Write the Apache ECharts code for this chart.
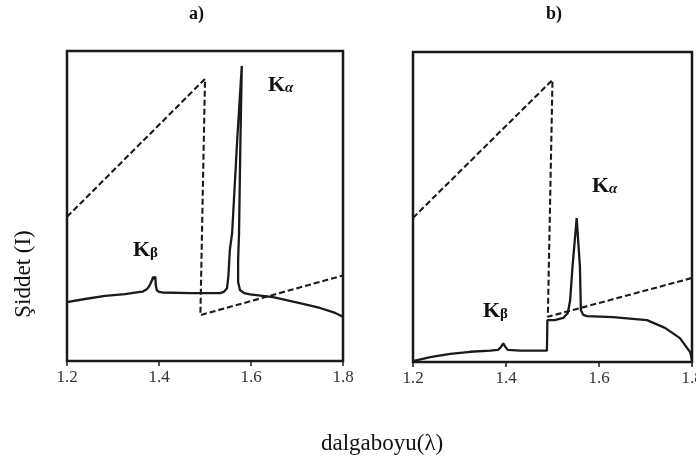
<!DOCTYPE html>
<html><head><meta charset="utf-8">
<script src="https://cdn.jsdelivr.net/npm/echarts@6/dist/echarts.min.js"></script>
<style>html,body{margin:0;padding:0;background:#fff}#c{width:696px;height:463px}</style>
</head><body><div id="c"></div>
<script>
// ---- data ----
const panelTitles = ['a)', 'b)'];
const xTicks = [1.2, 1.4, 1.6, 1.8];
const xLabel = 'dalgaboyu(λ)';
const yLabel = 'Şiddet (I)';
const lineLabels = ['K', 'α', 'β'];

// panel a: continuous + characteristic spectrum (solid)
const aSolidX = [1.200,1.239,1.283,1.326,1.359,1.365,1.374,1.380,1.385,1.387,1.389,1.392,1.393,1.395,1.400,1.407,1.467,1.533,1.541,1.548,1.551,1.554,1.559,1.570,1.580,1.577,1.574,1.572,1.572,1.576,1.585,1.598,1.648,1.706,1.750,1.783,1.800];
const aSolidY = [19.0,20.0,21.0,21.6,22.3,22.4,23.2,24.5,26.1,27.2,26.4,27.2,24.5,22.9,22.3,22.1,21.9,21.9,22.3,23.5,27.7,35.8,41.3,71.3,95.2,71.3,41.3,32.6,25.5,22.9,21.9,21.5,20.6,18.7,17.1,15.5,14.3];
// panel a: absorption edge (dashed)
const aDashX = [1.2, 1.5, 1.49, 1.8];
const aDashY = [46.5, 91.0, 14.8, 27.6];

// panel b: filtered spectrum (solid)
const bSolidX = [1.200,1.237,1.280,1.323,1.366,1.383,1.389,1.394,1.399,1.404,1.430,1.488,1.489,1.505,1.523,1.533,1.538,1.543,1.552,1.559,1.561,1.566,1.574,1.630,1.703,1.742,1.774,1.796,1.800];
const bSolidY = [0.3,1.6,2.6,3.3,3.7,3.9,4.8,6.0,4.8,3.9,3.7,3.7,13.5,13.5,14.2,15.8,20.0,30.7,46.4,30.7,16.8,15.2,14.8,14.5,13.5,11.0,7.7,3.2,0.6];
// panel b: absorption edge (dashed)
const bDashX = [1.2, 1.5, 1.49, 1.8];
const bDashY = [46.5, 91.0, 14.6, 27.1];

// ---- build ----
const zip = (xs, ys) => xs.map((x, i) => [x, ys[i]]);
const INK = '#1a1a1a';
const SERIF = "'Liberation Serif','Times New Roman',serif";

const chart = echarts.init(document.getElementById('c'), null, {renderer: 'canvas'});

const grids = [
  {left: 67, top: 51, width: 276, height: 310},
  {left: 413, top: 52, width: 279, height: 310}
].map(g => Object.assign(g, {show: true, borderColor: INK, borderWidth: 2.5, backgroundColor: 'transparent',
  containLabel: false, outerBoundsMode: 'none'}));

const xAxes = [0, 1].map(i => ({
  type: 'value', gridIndex: i, min: xTicks[0], max: xTicks[xTicks.length - 1], interval: 0.2,
  axisLine: {show: false},
  axisTick: {show: true, length: 5, lineStyle: {color: INK, width: 1.5}},
  axisLabel: {color: '#333', fontFamily: SERIF, fontSize: 17, margin: 8, hideOverlap: false,
    formatter: v => v.toFixed(1)},
  splitLine: {show: false}
}));
const yAxes = [0, 1].map(i => ({
  type: 'value', gridIndex: i, min: 0, max: 100,
  axisLine: {show: false}, axisTick: {show: false}, axisLabel: {show: false}, splitLine: {show: false}
}));

const solid = (data, idx) => ({type: 'line', xAxisIndex: idx, yAxisIndex: idx, data, showSymbol: false, symbol: 'none',
  lineStyle: {color: INK, width: 2.3}, animation: false, z: 3});
const dashed = (data, idx) => ({type: 'line', xAxisIndex: idx, yAxisIndex: idx, data, showSymbol: false, symbol: 'none',
  lineStyle: {color: INK, width: 2.1, type: [6, 3]}, animation: false, z: 2});

const richK = {
  k: {fontFamily: SERIF, fontSize: 22, fontWeight: 'bold', color: '#111', verticalAlign: 'bottom'},
  s: {fontFamily: SERIF, fontSize: 15, color: '#111', verticalAlign: 'bottom', fontStyle: 'italic'},
  b: {fontFamily: SERIF, fontSize: 15, color: '#111', verticalAlign: 'bottom'}
};
const kLabel = (sub, left, top, style) => ({
  text: '{k|' + lineLabels[0] + '}{' + style + '|' + sub + '}', left, top, padding: 0,
  textStyle: {rich: richK}
});
const titleStyle = {fontFamily: SERIF, fontSize: 18, fontWeight: 'bold', color: '#111'};

chart.setOption({
  backgroundColor: '#fff',
  animation: false,
  grid: grids,
  xAxis: xAxes,
  yAxis: yAxes,
  title: [
    {text: panelTitles[0], left: 189, top: 5, padding: 0, textStyle: titleStyle},
    {text: panelTitles[1], left: 546, top: 5, padding: 0, textStyle: titleStyle},
    kLabel(lineLabels[1], 268, 74, 's'),
    kLabel(lineLabels[2], 133, 239, 'b'),
    kLabel(lineLabels[1], 592, 175, 's'),
    kLabel(lineLabels[2], 483, 300, 'b'),
    {text: xLabel, left: 321, top: 432, padding: 0, textStyle: {fontFamily: SERIF, fontSize: 23, fontWeight: 'normal', color: '#111'}}
  ],
  graphic: [{
    type: 'text', x: 24, y: 274, rotation: Math.PI / 2,
    style: {text: yLabel, font: "normal 23px 'Liberation Serif', serif", fill: '#111', align: 'center', verticalAlign: 'middle'}
  }],
  series: [
    dashed(zip(aDashX, aDashY), 0),
    solid(zip(aSolidX, aSolidY), 0),
    dashed(zip(bDashX, bDashY), 1),
    solid(zip(bSolidX, bSolidY), 1)
  ]
});
</script></body></html>
